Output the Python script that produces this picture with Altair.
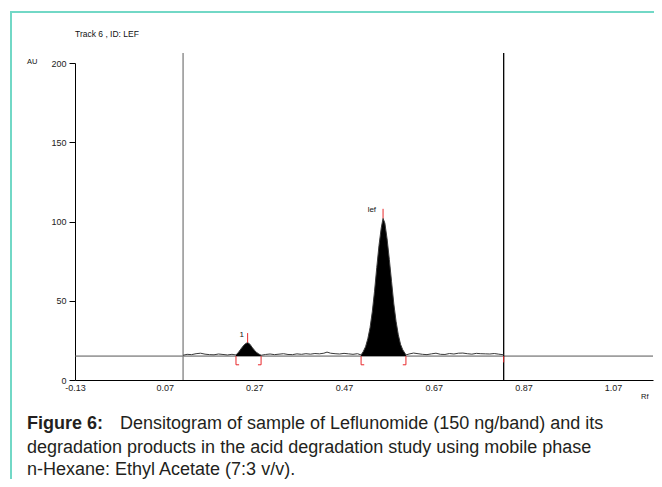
import altair as alt
import pandas as pd

# ---------------- data ----------------
rf = [0.111, 0.120, 0.130, 0.140, 0.150, 0.160, 0.170, 0.180, 0.190, 0.200, 0.210, 0.220,
      0.229, 0.235, 0.240, 0.245, 0.250, 0.255, 0.260, 0.265, 0.270, 0.275, 0.280, 0.285,
      0.295, 0.305, 0.315, 0.325, 0.335, 0.345, 0.355, 0.365, 0.375, 0.385, 0.395, 0.405,
      0.415, 0.425, 0.432, 0.440, 0.450, 0.460, 0.470, 0.480, 0.490, 0.500,
      0.508, 0.513, 0.518, 0.523, 0.528, 0.533, 0.538, 0.543, 0.548, 0.553, 0.557, 0.561,
      0.566, 0.571, 0.576, 0.581, 0.586, 0.591, 0.596, 0.601, 0.606, 0.608,
      0.615, 0.625, 0.635, 0.645, 0.655, 0.665, 0.675, 0.685, 0.695, 0.705, 0.715, 0.725,
      0.735, 0.745, 0.755, 0.765, 0.775, 0.785, 0.795, 0.805, 0.815, 0.826]
au = [15.6, 16.2, 16.0, 16.6, 16.9, 16.3, 16.0, 15.9, 16.4, 16.1, 15.8, 16.2,
      15.8, 17.6, 19.6, 21.4, 22.9, 23.6, 22.6, 20.6, 18.8, 17.4, 16.4, 15.6,
      16.1, 16.4, 16.0, 16.3, 16.6, 16.1, 16.0, 16.5, 16.2, 16.6, 16.3, 16.7,
      16.5, 16.9, 17.6, 16.9, 16.6, 16.4, 16.8, 16.5, 16.2, 16.6,
      15.8, 18.0, 21.0, 26.0, 33.0, 43.0, 56.0, 71.0, 85.0, 96.0, 102.0, 99.0,
      89.0, 76.0, 62.0, 48.0, 37.0, 28.5, 22.5, 19.0, 16.8, 15.8,
      16.4, 17.0, 16.6, 16.2, 16.0, 16.5, 16.9, 16.2, 16.1, 16.7, 16.4, 16.9,
      17.0, 16.6, 16.3, 16.8, 16.6, 16.5, 16.4, 16.7, 16.3, 15.9]

baseline_au = 15.1
track_start = 0.111
track_end = 0.826

peak_names = ["1", "lef"]
peak_start = [0.229, 0.508]
peak_end = [0.285, 0.608]
peak_apex_rf = [0.255, 0.557]
peak_apex_au = [23.6, 102.0]

x_ticks = [-0.13, 0.07, 0.27, 0.47, 0.67, 0.87, 1.07]
y_ticks = [0, 50, 100, 150, 200]

title_text = "Track  6 , ID: LEF"
y_unit = "AU"
x_unit = "Rf"
caption_bold = "Figure 6:"
caption_line1 = "Densitogram of sample of Leflunomide (150 ng/band) and its"
caption_line2 = "degradation products in the acid degradation study using mobile phase"
caption_line3 = "n-Hexane: Ethyl Acetate (7:3 v/v)."

# ---------------- tables ----------------
trace = pd.DataFrame({"rf": rf, "au": au})

area_rows = []
for name, s, e in zip(peak_names, peak_start, peak_end):
    for r, a in zip(rf, au):
        if s <= r <= e:
            area_rows.append({"peak": name, "rf": r, "au": a, "base": baseline_au})
areas = pd.DataFrame(area_rows)

apex = pd.DataFrame({"peak": peak_names, "rf": peak_apex_rf, "au": peak_apex_au})
apex["top"] = apex["au"] + 6

bracket_v = pd.DataFrame({"rf": peak_start + peak_end})
bracket_v["y"] = baseline_au
bracket_v["y2"] = baseline_au - 5.5
feet = pd.DataFrame({"rf": peak_start + peak_end,
                     "rf2": [s + 0.007 for s in peak_start] + [e - 0.007 for e in peak_end]})
feet["y"] = baseline_au - 5.5

end_tick = pd.DataFrame({"rf": [track_end], "y": [baseline_au], "y2": [baseline_au - 4]})
tracks = pd.DataFrame({"rf": [track_start, track_end], "col": ["#808080", "#000000"]})
labels = pd.DataFrame({"peak": peak_names,
                       "rf": [0.242, 0.532],
                       "au": [28.4, 107.0]})

W, H = 578, 317
FONT = "Liberation Sans"
RED = "#e8282b"

xs = alt.Scale(domain=[-0.13, 1.159], nice=False, zero=False)
ys = alt.Scale(domain=[0, 200], nice=False)

x_axis = alt.Axis(values=x_ticks, labelExpr="replace(format(datum.value, '.2f'), '\u2212', '-')",
                  title=None, tickSize=0, labelPadding=3, labelFontSize=9, labelFont=FONT,
                  labelColor="#222", domainColor="#000", labelFlush=False)
y_axis = alt.Axis(values=y_ticks, title=None, tickSize=6, tickColor="#000", labelPadding=3,
                  labelFontSize=9, labelFont=FONT, labelColor="#222", domainColor="#000")

one = pd.DataFrame({"a": [0]})

base_rule = alt.Chart(one).mark_rule(color="#555", strokeWidth=1).encode(
    y=alt.datum(baseline_au, scale=ys, axis=y_axis), x=alt.value(0), x2=alt.value(W))

track_lines = alt.Chart(tracks).mark_rule(strokeWidth=1.3).encode(
    x=alt.X("rf:Q", scale=xs, axis=x_axis), y=alt.value(-10), y2=alt.value(H),
    color=alt.Color("col:N", scale=None))

area = alt.Chart(areas).mark_area(color="#000", opacity=1).encode(
    x=alt.X("rf:Q", scale=xs), y=alt.Y("au:Q", scale=ys), y2="base:Q", detail="peak:N")

line = alt.Chart(trace).mark_line(color="#3a3a3a", strokeWidth=1).encode(
    x=alt.X("rf:Q", scale=xs), y=alt.Y("au:Q", scale=ys))

apex_rules = alt.Chart(apex).mark_rule(color=RED, strokeWidth=1).encode(
    x=alt.X("rf:Q", scale=xs), y=alt.Y("au:Q", scale=ys), y2="top:Q")

br_v = alt.Chart(bracket_v).mark_rule(color=RED, strokeWidth=1).encode(
    x=alt.X("rf:Q", scale=xs), y=alt.Y("y:Q", scale=ys), y2="y2:Q")
br_f = alt.Chart(feet).mark_rule(color=RED, strokeWidth=1).encode(
    x=alt.X("rf:Q", scale=xs), x2="rf2:Q", y=alt.Y("y:Q", scale=ys))
e_tick = alt.Chart(end_tick).mark_rule(color=RED, strokeWidth=1).encode(
    x=alt.X("rf:Q", scale=xs), y=alt.Y("y:Q", scale=ys), y2="y2:Q")

peak_text = alt.Chart(labels).mark_text(font=FONT, fontSize=8, color="#111").encode(
    x=alt.X("rf:Q", scale=xs), y=alt.Y("au:Q", scale=ys), text="peak:N")

def txt(s, x, y, size, weight="normal", color="#111", align="left"):
    return alt.Chart(one).mark_text(text=s, font=FONT, fontSize=size, fontWeight=weight,
                                    color=color, align=align, baseline="alphabetic").encode(
        x=alt.value(x), y=alt.value(y))

title_t = txt(title_text, 0, -26, 8.5)
au_t = txt(y_unit, -48, 1, 7.5)
rf_t = txt(x_unit, 566, 336, 7.5)

CAP = "#231f20"
cap1b = txt(caption_bold, -48, 366, 18, "bold", CAP)
cap1 = txt(caption_line1, 45, 366, 18, "normal", CAP)
cap2 = txt(caption_line2, -48, 390, 18, "normal", CAP)
cap3 = txt(caption_line3, -48, 412, 18, "normal", CAP)

TEAL = "#72d8c6"
border_top = alt.Chart(one).mark_rule(color=TEAL, strokeWidth=2).encode(
    x=alt.value(-64), x2=alt.value(W + 8), y=alt.value(-51))
border_left = alt.Chart(one).mark_rule(color=TEAL, strokeWidth=2).encode(
    x=alt.value(-64), y=alt.value(-52), y2=alt.value(H + 100))

chart = alt.layer(
    border_top, border_left,
    base_rule, track_lines, area, line, apex_rules, br_v, br_f, e_tick, peak_text,
    title_t, au_t, rf_t, cap1b, cap1, cap2, cap3,
).properties(
    width=W, height=H, autosize="none",
    padding={"left": 67, "top": 55, "right": 1, "bottom": 99},
    background="white",
).configure_view(stroke=None).configure_axis(grid=False)

chart.save("out.html", embed_options={"renderer": "svg", "actions": False})
